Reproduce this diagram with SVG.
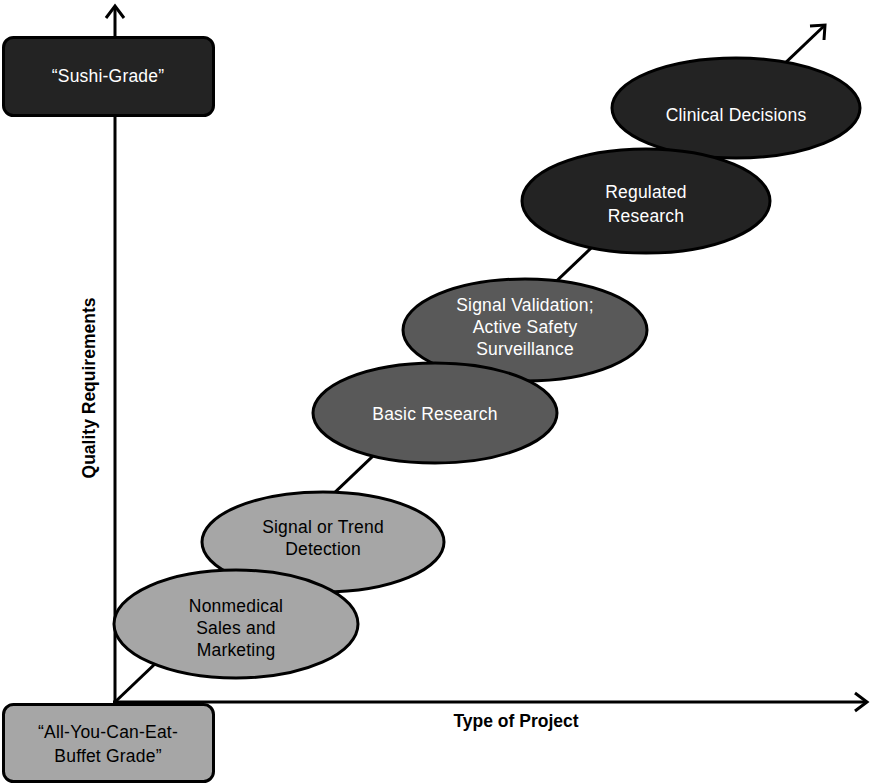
<svg xmlns="http://www.w3.org/2000/svg" width="871" height="784" viewBox="0 0 871 784">
<defs>
<style>
.ax{stroke:#000;stroke-width:3;fill:none;stroke-linecap:butt}
.ah{stroke:#000;stroke-width:3;fill:none;stroke-linejoin:miter}
.node{stroke:#000;stroke-width:3}
.lt{fill:#a6a6a6}
.md{fill:#595959}
.dk{fill:#232323}
.t{font-family:"Liberation Sans",Arial,Helvetica,sans-serif;font-size:17.5px;letter-spacing:0.2px;text-anchor:middle}
.tw{fill:#fff}
.tb{fill:#000}
.lbl{font-family:"Liberation Sans",Arial,Helvetica,sans-serif;font-size:17.5px;font-weight:bold;text-anchor:middle;fill:#000}
</style>
</defs>
<rect width="871" height="784" fill="#fff"/>
<g id="connectors">
<line class="ax" x1="115" y1="702" x2="115" y2="6"/>
<polyline class="ah" points="106,18 115,6 124,18"/>
<line class="ax" x1="113" y1="702" x2="866" y2="702"/>
<polyline class="ah" points="855,693 867,702 855,711"/>
<line class="ax" x1="115" y1="702" x2="824" y2="26"/>
<polyline class="ah" points="810,26 825,25 824,40"/>
</g>
<g id="sushi">
<rect class="node dk" x="3.5" y="37.5" width="210" height="78" rx="10"/>
<text class="t tw" x="108" y="82">“Sushi-Grade”</text>
</g>
<g id="buffet">
<rect class="node lt" x="3.5" y="704.5" width="210" height="77" rx="10"/>
<text class="t tb" x="108" y="738">“All-You-Can-Eat-</text>
<text class="t tb" x="108" y="762">Buffet Grade”</text>
</g>
<g id="clinical">
<ellipse class="node dk" cx="736" cy="108" rx="124" ry="50"/>
<text class="t tw" x="736" y="121">Clinical Decisions</text>
</g>
<g id="regulated">
<ellipse class="node dk" cx="646" cy="201" rx="124" ry="52"/>
<text class="t tw" x="646" y="198">Regulated</text>
<text class="t tw" x="646" y="222">Research</text>
</g>
<g id="signal-validation">
<ellipse class="node md" cx="525" cy="330" rx="122" ry="51"/>
<text class="t tw" x="525" y="311">Signal Validation;</text>
<text class="t tw" x="525" y="333">Active Safety</text>
<text class="t tw" x="525" y="355">Surveillance</text>
</g>
<g id="basic-research">
<ellipse class="node md" cx="435" cy="413" rx="122" ry="50"/>
<text class="t tw" x="435" y="420">Basic Research</text>
</g>
<g id="signal-trend">
<ellipse class="node lt" cx="323" cy="542" rx="121" ry="50"/>
<text class="t tb" x="323" y="533">Signal or Trend</text>
<text class="t tb" x="323" y="555">Detection</text>
</g>
<g id="nonmedical">
<ellipse class="node lt" cx="236" cy="624" rx="122" ry="54"/>
<text class="t tb" x="236" y="612">Nonmedical</text>
<text class="t tb" x="236" y="634">Sales and</text>
<text class="t tb" x="236" y="656">Marketing</text>
</g>
<g id="labels">
<text class="lbl" transform="translate(95,388) rotate(-90)">Quality Requirements</text>
<text class="lbl" x="516" y="727">Type of Project</text>
</g>
</svg>
